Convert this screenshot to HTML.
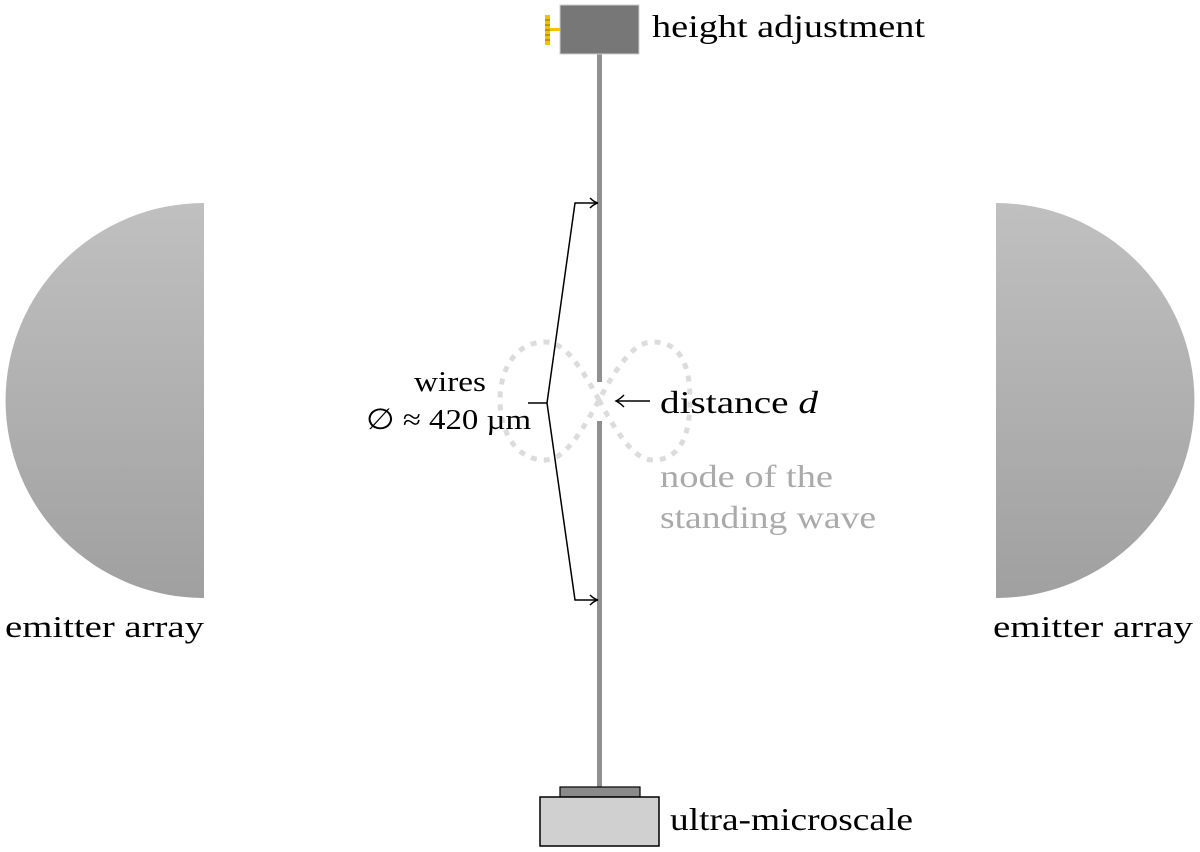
<!DOCTYPE html>
<html><head><meta charset="utf-8"><style>
html,body{margin:0;padding:0;background:#fff;}
svg{display:block;}
text{font-family:"Liberation Serif",serif;}
</style></head><body>
<svg width="1200" height="852" viewBox="0 0 1200 852" xmlns="http://www.w3.org/2000/svg">
<defs>
<linearGradient id="g" x1="0" y1="0" x2="0" y2="1">
<stop offset="0" stop-color="#c0c0c0"/><stop offset="1" stop-color="#a0a0a0"/>
</linearGradient>
</defs>
<path d="M204,203 A198,197 0 0 0 204,598 Z" fill="url(#g)"/>
<path d="M996,203 A198,197 0 0 1 996,598 Z" fill="url(#g)"/>
<text x="5" y="637" font-size="31" textLength="199" lengthAdjust="spacingAndGlyphs">emitter array</text>
<text x="993" y="637" font-size="31" textLength="200" lengthAdjust="spacingAndGlyphs">emitter array</text>
<rect x="597" y="54" width="5" height="328" fill="#909090"/>
<rect x="597" y="421" width="5" height="367" fill="#909090"/>
<rect x="560" y="5" width="79" height="49" fill="#777" stroke="#ccc" stroke-width="1"/>
<rect x="548" y="28" width="12" height="3" fill="#f5c000"/>
<rect x="545" y="15" width="5" height="30" fill="#f5c000"/>
<g stroke="#8a6a00" stroke-width="1"><line x1="545" y1="20" x2="550" y2="20"/><line x1="545" y1="25" x2="550" y2="25"/><line x1="545" y1="30" x2="550" y2="30"/><line x1="545" y1="35" x2="550" y2="35"/><line x1="545" y1="40" x2="550" y2="40"/></g>
<text x="652" y="37" font-size="32" textLength="273" lengthAdjust="spacingAndGlyphs">height adjustment</text>
<rect x="560" y="787" width="80" height="10" fill="#8a8a8a" stroke="#000" stroke-width="1.2"/>
<rect x="540" y="797" width="119" height="49" fill="#d0d0d0" stroke="#000" stroke-width="1.5"/>
<text x="670" y="830" font-size="32" textLength="243" lengthAdjust="spacingAndGlyphs">ultra-microscale</text>
<path d="M599,400 C575,355 560,342 545,342 C515,342 500,370 500,400 C500,430 515,460 545,460 C560,460 575,445 599,400 C623,355 638,342 653,342 C683,342 690,370 690,400 C690,430 683,460 653,460 C638,460 623,445 599,400" fill="none" stroke="#dcdcdc" stroke-width="5" stroke-dasharray="6,7"/>
<path d="M597,203 L575,203 L547,403 L575,600 L597,600" fill="none" stroke="#000" stroke-width="1.5"/>
<path d="M590,198 Q594,202 598,203 Q594,204 590,208" fill="none" stroke="#000" stroke-width="1.5"/>
<path d="M590,595 Q594,599 598,600 Q594,601 590,605" fill="none" stroke="#000" stroke-width="1.5"/>
<line x1="528" y1="403" x2="547" y2="403" stroke="#000" stroke-width="1.5"/>
<text x="414" y="391" font-size="29" textLength="72" lengthAdjust="spacingAndGlyphs">wires</text>
<text x="366" y="429" font-size="29" textLength="165" lengthAdjust="spacingAndGlyphs">∅ ≈ 420 µm</text>
<line x1="616" y1="401" x2="650" y2="401" stroke="#000" stroke-width="1.5"/>
<path d="M624,395 Q620,399 616,401 Q620,403 624,407" fill="none" stroke="#000" stroke-width="1.5"/>
<text x="660" y="413" font-size="32" textLength="158" lengthAdjust="spacingAndGlyphs">distance <tspan font-style="italic">d</tspan></text>
<text x="660" y="487" font-size="32" fill="#aaa" textLength="173" lengthAdjust="spacingAndGlyphs">node of the</text>
<text x="660" y="528" font-size="32" fill="#aaa" textLength="216" lengthAdjust="spacingAndGlyphs">standing wave</text>
</svg>
</body></html>
